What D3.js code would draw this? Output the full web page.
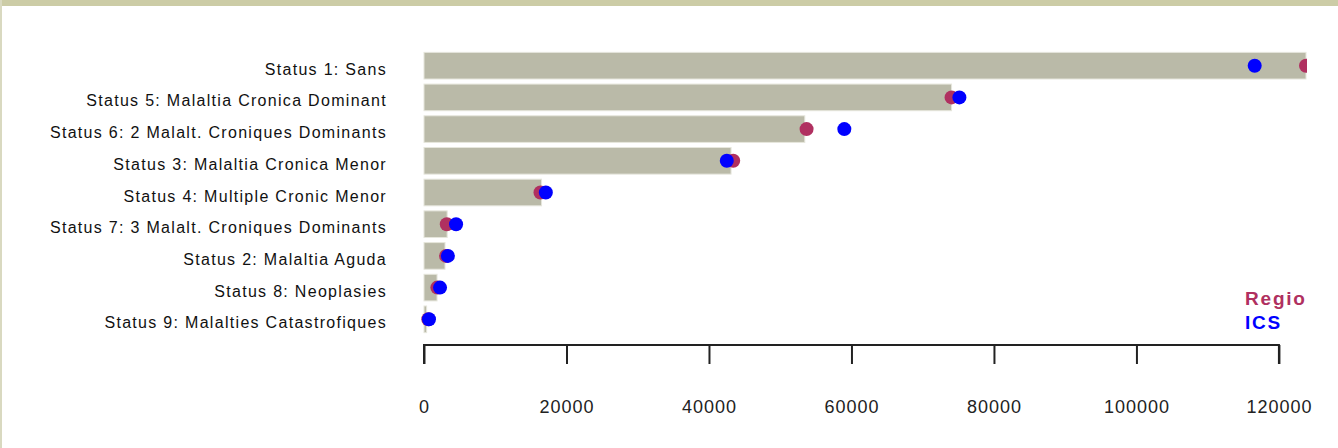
<!DOCTYPE html>
<html>
<head>
<meta charset="utf-8">
<script src="https://cdn.jsdelivr.net/npm/d3@7"></script>
<style>
  html, body { margin: 0; padding: 0; background: #ffffff; }
  svg { display: block; }
</style>
</head>
<body>
<svg id="chart" width="1338" height="448"></svg>
<script>
// ---- data ----
const categories = [
  "Status 1: Sans",
  "Status 5: Malaltia Cronica Dominant",
  "Status 6: 2 Malalt. Croniques Dominants",
  "Status 3: Malaltia Cronica Menor",
  "Status 4: Multiple Cronic Menor",
  "Status 7: 3 Malalt. Croniques Dominants",
  "Status 2: Malaltia Aguda",
  "Status 8: Neoplasies",
  "Status 9: Malalties Catastrofiques"
];
const barValues   = [123800, 74050, 53450, 43100, 16500, 3250, 2950, 1830, 370];
const regioValues = [123800, 74050, 53700, 43400, 16350, 3200, 3100, 1870, 600];
const icsValues   = [116600, 75150, 59000, 42500, 17100, 4500, 3350, 2250, 700];
const tickValues  = [0, 20000, 40000, 60000, 80000, 100000, 120000];
const legendLabels = ["Regio", "ICS"];
const legendColors = ["#b03060", "#0000ff"];

// ---- layout ----
const svg = d3.select("#chart");

// frame decorations
svg.append("rect").attr("x", 0).attr("y", 0).attr("width", 1338).attr("height", 6).attr("fill", "#cccca6");
svg.append("rect").attr("x", 0).attr("y", 0).attr("width", 2).attr("height", 448).attr("fill", "#d9d9c0");

const x = d3.scaleLinear().domain([0, d3.max(barValues)]).range([424, 1306]);
const y = d3.scaleBand().domain(categories).range([49.85, 335.15]).paddingInner(0.16).paddingOuter(0.08);

svg.append("defs").append("clipPath").attr("id", "plotclip")
  .append("rect").attr("x", 400).attr("y", 40).attr("width", x.range()[1] - 400 + 1).attr("height", 300);

// bars
svg.append("g").selectAll("rect").data(categories).join("rect")
  .attr("x", x(0))
  .attr("y", d => y(d))
  .attr("width", (d, i) => x(barValues[i]) - x(0))
  .attr("height", y.bandwidth())
  .attr("fill", "#babaa8")
  .attr("stroke", "#e6e6dc")
  .attr("stroke-width", 1);

// points
const pts = svg.append("g").attr("clip-path", "url(#plotclip)");
pts.selectAll("circle.regio").data(categories).join("circle").attr("class", "regio")
  .attr("cx", (d, i) => x(regioValues[i]))
  .attr("cy", d => y(d) + y.bandwidth() / 2)
  .attr("r", 7)
  .attr("fill", legendColors[0]);
pts.selectAll("circle.ics").data(categories).join("circle").attr("class", "ics")
  .attr("cx", (d, i) => x(icsValues[i]))
  .attr("cy", d => y(d) + y.bandwidth() / 2)
  .attr("r", 7)
  .attr("fill", legendColors[1]);

// category labels
svg.append("g").selectAll("text").data(categories).join("text")
  .attr("x", 387)
  .attr("y", d => y(d) + y.bandwidth() / 2 + 9)
  .attr("text-anchor", "end")
  .attr("font-family", "Liberation Sans, Arial, sans-serif")
  .attr("font-size", 16)
  .attr("letter-spacing", "1.3px")
  .attr("fill", "#111")
  .text(d => d);

// x axis
const axis = d3.axisBottom(x).tickValues(tickValues).tickSize(19).tickPadding(36).tickFormat(d3.format("d"));
const gAxis = svg.append("g").attr("transform", "translate(0,345)").call(axis);
gAxis.select(".domain").attr("d", `M${x(0)},19V0H${x(120000)}V19`).attr("stroke", "#222").attr("stroke-width", 2);
gAxis.selectAll(".tick line").attr("stroke", "#222").attr("stroke-width", 2);
gAxis.selectAll(".tick text")
  .attr("font-family", "Liberation Sans, Arial, sans-serif")
  .attr("font-size", 18)
  .attr("letter-spacing", "1px")
  .attr("fill", "#222");

// legend
svg.append("g").selectAll("text").data(legendLabels).join("text")
  .attr("x", 1245)
  .attr("y", (d, i) => 305 + i * 24)
  .attr("font-family", "Liberation Sans, Arial, sans-serif")
  .attr("font-size", 19)
  .attr("font-weight", "bold")
  .attr("letter-spacing", "1.8px")
  .attr("fill", (d, i) => legendColors[i])
  .text(d => d);
</script>
</body>
</html>
